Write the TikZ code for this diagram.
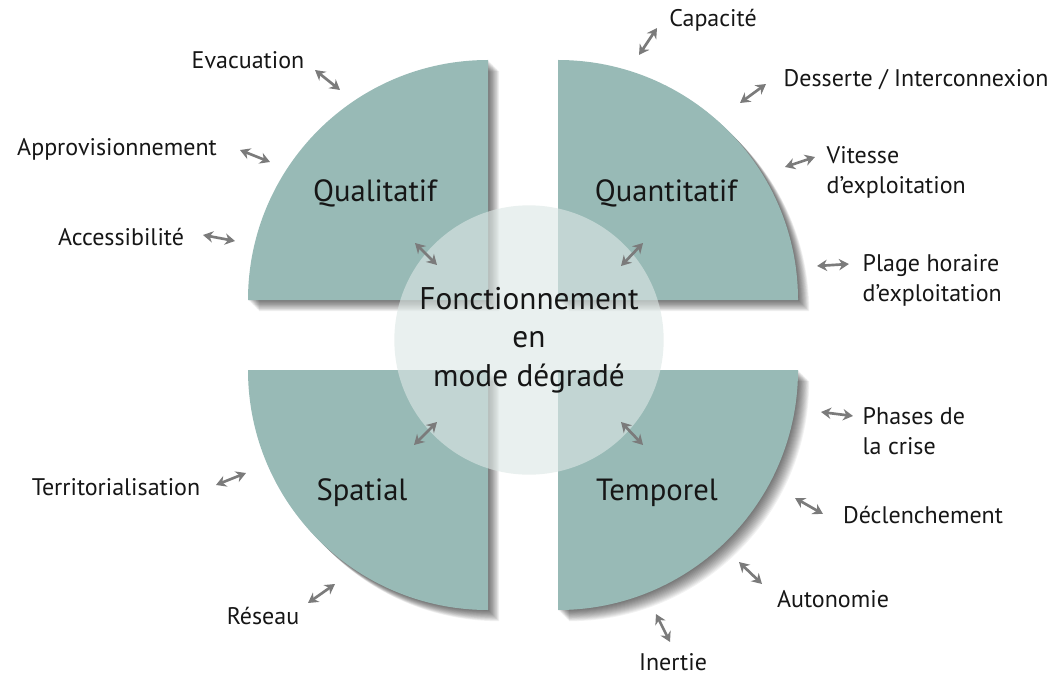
\documentclass[tikz,border=0pt]{standalone}
\usepackage{fontspec}
\setmainfont{PT Sans}
\usetikzlibrary{arrows.meta}
\definecolor{QuadTeal}{HTML}{98BAB6}
\definecolor{ArrowGrey}{HTML}{7B7B7B}
\definecolor{CoreFill}{HTML}{DCE7E5}
\definecolor{InkGrey}{HTML}{161616}

\begin{document}
\begin{tikzpicture}[x=0.75pt, y=0.75pt, >=Stealth,
  quad/.style={fill=QuadTeal},
  shade/.style={fill=black, opacity=0.05},
  biarrow/.style={<->, ArrowGrey, line width=2pt, >={Stealth[length=7.5pt,width=8.5pt]}},
  lbl/.style={font=\fontsize{18}{22.5}\selectfont, text=InkGrey},
  big/.style={font=\fontsize{23}{26}\selectfont, text=InkGrey},
  core/.style={circle, minimum size=202pt, fill=CoreFill, fill opacity=0.62,
    text opacity=1, text=InkGrey, align=center, font=\fontsize{23.5}{29}\selectfont}]
  \useasboundingbox (0,0) rectangle (1056,-677);
  % soft shadow under the four quarters
  \foreach \cx/\cy/\a in {488/-300/90, 558/-300/0, 488/-370/180, 558/-370/270}{
    \foreach \s in {1,...,14}
      \fill[shade, shift={(\s*0.8,-\s*0.8)}] (\cx,\cy) -- ++(\a:180pt)
        arc[start angle=\a, delta angle=90, radius=180pt] -- cycle;
  }
  % the four quarters
  \foreach \cx/\cy/\a in {488/-300/90, 558/-300/0, 488/-370/180, 558/-370/270}
    \fill[quad] (\cx,\cy) -- ++(\a:180pt)
      arc[start angle=\a, delta angle=90, radius=180pt] -- cycle;

  \node[big] (qual) at (375,-193) {Qualitatif};
  \node[big] (quant) at (666,-193) {Quantitatif};
  \node[big] (spat) at (362,-493) {Spatial};
  \node[big] (temp) at (657,-493) {Temporel};

  % centre
  \node[core] (core) at (529,-340) {Fonctionnement\\en\\mode dégradé};

  % outer labels
  \node[lbl] (evac) at (248,-60) {Evacuation};
  \node[lbl] (appro) at (117,-149) {Approvisionnement};
  \node[lbl] (acces) at (121,-237) {Accessibilité};
  \node[lbl] (terri) at (116,-487) {Territorialisation};
  \node[lbl] (res) at (263,-616) {Réseau};
  \node[lbl] (capa) at (713,-20) {Capacité};
  \node[lbl] (dess) at (916,-80) {Desserte / Interconnexion};
  \node[lbl, anchor=west, align=left] (vit) at (822,-172) {Vitesse\\d’exploitation};
  \node[lbl, anchor=west, align=left] (plage) at (858,-280) {Plage horaire\\d’exploitation};
  \node[lbl, anchor=west, align=left] (phase) at (858,-431) {Phases de\\la crise};
  \node[lbl] (decl) at (923,-515) {Déclenchement};
  \node[lbl] (auto) at (833,-599) {Autonomie};
  \node[lbl] (inert) at (673,-662) {Inertie};

  % double arrows
  \foreach \n/\ax/\ay/\bx/\by in {evac/315/70/340/90, appro/240/150/270/162,
      acces/203/235/235/241, terri/216/485/246/473, res/308/603/335/584,
      capa/639/55/657/28, dess/740/103/766/84, vit/785/167/815/157,
      plage/817/266/849/264, phase/821/412/853/416, decl/795/498/823/514,
      auto/739/562/762/584, inert/656/614/670/642,
      qual/415/243/437/265, quant/643/243/621/266,
      spat/437/422/414/445, temp/621/422/643/445}{
    \coordinate (\n-a) at (\ax,-\ay);
    \coordinate (\n-b) at (\bx,-\by);
    \draw[biarrow] (\n-a) -- (\n-b);
  }
\end{tikzpicture}
\end{document}
